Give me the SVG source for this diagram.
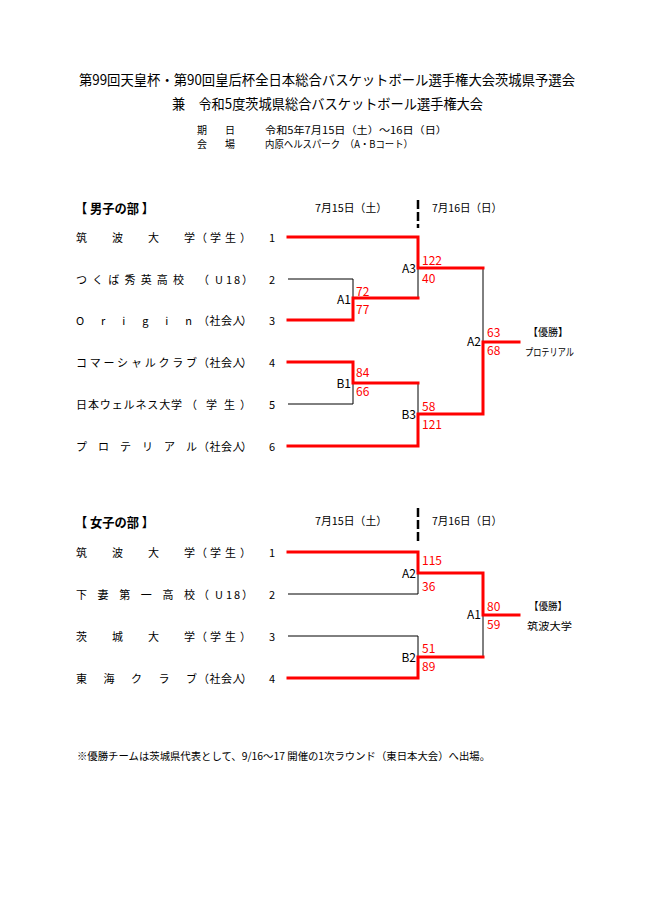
<svg xmlns="http://www.w3.org/2000/svg" width="650" height="920" viewBox="0 0 650 920">
<style>
text{font-family:"Noto Sans CJK JP","Noto Sans",sans-serif;fill:#000}
.title{font-size:14px}
.info{font-size:10px}
.hdr{font-size:13px;font-weight:bold}
.date{font-size:11px}
.team{font-size:11px}
.num{font-size:11px;text-anchor:middle}
.sc{font-size:12px;fill:#ff0000}
.lbl{font-size:12px;text-anchor:end}
.win{font-size:10.5px}
.foot{font-size:10.5px}
.thin{fill:none;stroke:#000;stroke-width:1}
.red{fill:none;stroke:#ff0000;stroke-width:3;stroke-linejoin:miter;stroke-linecap:square}
.dash{fill:none;stroke:#000;stroke-width:2.5;stroke-dasharray:9 3}
</style>
<rect width="650" height="920" fill="#fff"/>
<g id="title">
<text class="title" x="79" y="85" textLength="496" lengthAdjust="spacingAndGlyphs">第99回天皇杯・第90回皇后杯全日本総合バスケットボール選手権大会茨城県予選会</text>
<text class="title" x="172" y="109" textLength="311" lengthAdjust="spacingAndGlyphs">兼　令和5度茨城県総合バスケットボール選手権大会</text>
</g>
<g id="info">
<text class="info" x="197" y="133.5">期</text><text class="info" x="225" y="133.5">日</text>
<text class="info" x="265" y="133.5" textLength="182" lengthAdjust="spacingAndGlyphs">令和5年7月15日（土）～16日（日）</text>
<text class="info" x="197" y="148">会</text><text class="info" x="225" y="148">場</text>
<text class="info" x="265" y="148" textLength="148" lengthAdjust="spacingAndGlyphs">内原ヘルスパーク　（A・Bコート）</text>
</g>
<g id="men-header">
<text class="hdr" x="75" y="213" textLength="79" lengthAdjust="spacingAndGlyphs">【 男子の部 】</text>
<text class="date" x="315" y="212" textLength="72" lengthAdjust="spacingAndGlyphs">7月15日（土）</text>
<text class="date" x="432" y="212" textLength="70" lengthAdjust="spacingAndGlyphs">7月16日（日）</text>
</g>
<g id="men-teams">
<g id="m1"><text class="team" x="76" y="241.5" textLength="119" lengthAdjust="spacing">筑波大学</text><text class="team" x="196 210 225 240" y="241.5">（学生）</text><text class="num" x="272" y="241.5">1</text></g>
<g id="m2"><text class="team" x="76" y="283.5" textLength="108" lengthAdjust="spacing">つくば秀英高校</text><text class="team" x="198 215 226 234 242" y="283.5">（U18）</text><text class="num" x="272" y="283.5">2</text></g>
<g id="m3"><text class="team" x="76" y="324.5" textLength="116" lengthAdjust="spacing">Origin</text><text class="team" x="198 209.5 221 232.5 241" y="324.5">（社会人）</text><text class="num" x="272" y="324.5">3</text></g>
<g id="m4"><text class="team" x="76" y="366.5" textLength="121" lengthAdjust="spacing">コマーシャルクラブ</text><text class="team" x="198 209.5 221 232.5 241" y="366.5">（社会人）</text><text class="num" x="272" y="366.5">4</text></g>
<g id="m5"><text class="team" x="76" y="408.5" textLength="106" lengthAdjust="spacing">日本ウェルネス大学</text><text class="team" x="186 206 224 240" y="408.5">（学生）</text><text class="num" x="272" y="408.5">5</text></g>
<g id="m6"><text class="team" x="76" y="450.5" textLength="121" lengthAdjust="spacing">プロテリアル</text><text class="team" x="198 209.5 221 232.5 241" y="450.5">（社会人）</text><text class="num" x="272" y="450.5">6</text></g>
</g>
<g id="connectors">
<path class="dash" d="M418,200 V228"/>
<path class="dash" d="M418,508 V542"/>
<path class="thin" d="M288,279 H353 V298"/>
<path class="thin" d="M288,404 H353 V383"/>
<path class="thin" d="M418,268 V298"/>
<path class="thin" d="M418,383 V414"/>
<path class="thin" d="M483,268 V342"/>
<path class="red" d="M288,237 H418 V268 H483"/>
<path class="red" d="M288,320 H353 V298 H418"/>
<path class="red" d="M288,362 H353 V383 H418"/>
<path class="red" d="M288,446 H418 V414 H483 V342 H519"/>
<path class="thin" d="M288,594 H418 V573"/>
<path class="thin" d="M288,636 H418 V657"/>
<path class="thin" d="M483,615 V657"/>
<path class="red" d="M288,552 H418 V573 H483 V615 H519"/>
<path class="red" d="M288,678 H418 V657 H483"/>
</g>
<g id="men-games">
<g id="mA1"><text class="lbl" x="351" y="304">A1</text><text class="sc" x="356" y="295.5">72</text><text class="sc" x="356" y="313.5">77</text></g>
<g id="mB1"><text class="lbl" x="351" y="388">B1</text><text class="sc" x="356" y="377">84</text><text class="sc" x="356" y="396">66</text></g>
<g id="mA3"><text class="lbl" x="416" y="273">A3</text><text class="sc" x="422" y="265">122</text><text class="sc" x="422" y="283">40</text></g>
<g id="mB3"><text class="lbl" x="416" y="419">B3</text><text class="sc" x="422" y="411">58</text><text class="sc" x="422" y="429">121</text></g>
<g id="mA2"><text class="lbl" x="481" y="346">A2</text><text class="sc" x="487" y="337">63</text><text class="sc" x="487" y="355">68</text></g>
<g id="m-winner"><text class="win" x="528" y="336" textLength="40" lengthAdjust="spacingAndGlyphs">【優勝】</text><text class="win" x="525" y="356" textLength="49" lengthAdjust="spacingAndGlyphs">プロテリアル</text></g>
</g>
<g id="women-header">
<text class="hdr" x="75" y="527" textLength="79" lengthAdjust="spacingAndGlyphs">【 女子の部 】</text>
<text class="date" x="315" y="525" textLength="72" lengthAdjust="spacingAndGlyphs">7月15日（土）</text>
<text class="date" x="432" y="525" textLength="70" lengthAdjust="spacingAndGlyphs">7月16日（日）</text>
</g>
<g id="women-teams">
<g id="w1"><text class="team" x="76" y="556.5" textLength="119" lengthAdjust="spacing">筑波大学</text><text class="team" x="196 210 225 240" y="556.5">（学生）</text><text class="num" x="272" y="556.5">1</text></g>
<g id="w2"><text class="team" x="76" y="598.5" textLength="119" lengthAdjust="spacing">下妻第一高校</text><text class="team" x="198 215 226 234 242" y="598.5">（U18）</text><text class="num" x="272" y="598.5">2</text></g>
<g id="w3"><text class="team" x="76" y="640.5" textLength="119" lengthAdjust="spacing">茨城大学</text><text class="team" x="196 210 225 240" y="640.5">（学生）</text><text class="num" x="272" y="640.5">3</text></g>
<g id="w4"><text class="team" x="76" y="682.5" textLength="121" lengthAdjust="spacing">東海クラブ</text><text class="team" x="198 209.5 221 232.5 241" y="682.5">（社会人）</text><text class="num" x="272" y="682.5">4</text></g>
</g>
<g id="women-games">
<g id="wA2"><text class="lbl" x="416" y="578">A2</text><text class="sc" x="422" y="565">115</text><text class="sc" x="422" y="591">36</text></g>
<g id="wB2"><text class="lbl" x="416" y="662">B2</text><text class="sc" x="422" y="652.5">51</text><text class="sc" x="422" y="670.5">89</text></g>
<g id="wA1"><text class="lbl" x="481" y="619">A1</text><text class="sc" x="487" y="611">80</text><text class="sc" x="487" y="629">59</text></g>
<g id="w-winner"><text class="win" x="529" y="610" textLength="38" lengthAdjust="spacingAndGlyphs">【優勝】</text><text class="win" x="527" y="630" textLength="45" lengthAdjust="spacingAndGlyphs">筑波大学</text></g>
</g>
<g id="footer">
<text class="foot" x="77" y="760" textLength="413" lengthAdjust="spacingAndGlyphs">※優勝チームは茨城県代表として、9/16～17 開催の1次ラウンド（東日本大会）へ出場。</text>
</g>
</svg>
